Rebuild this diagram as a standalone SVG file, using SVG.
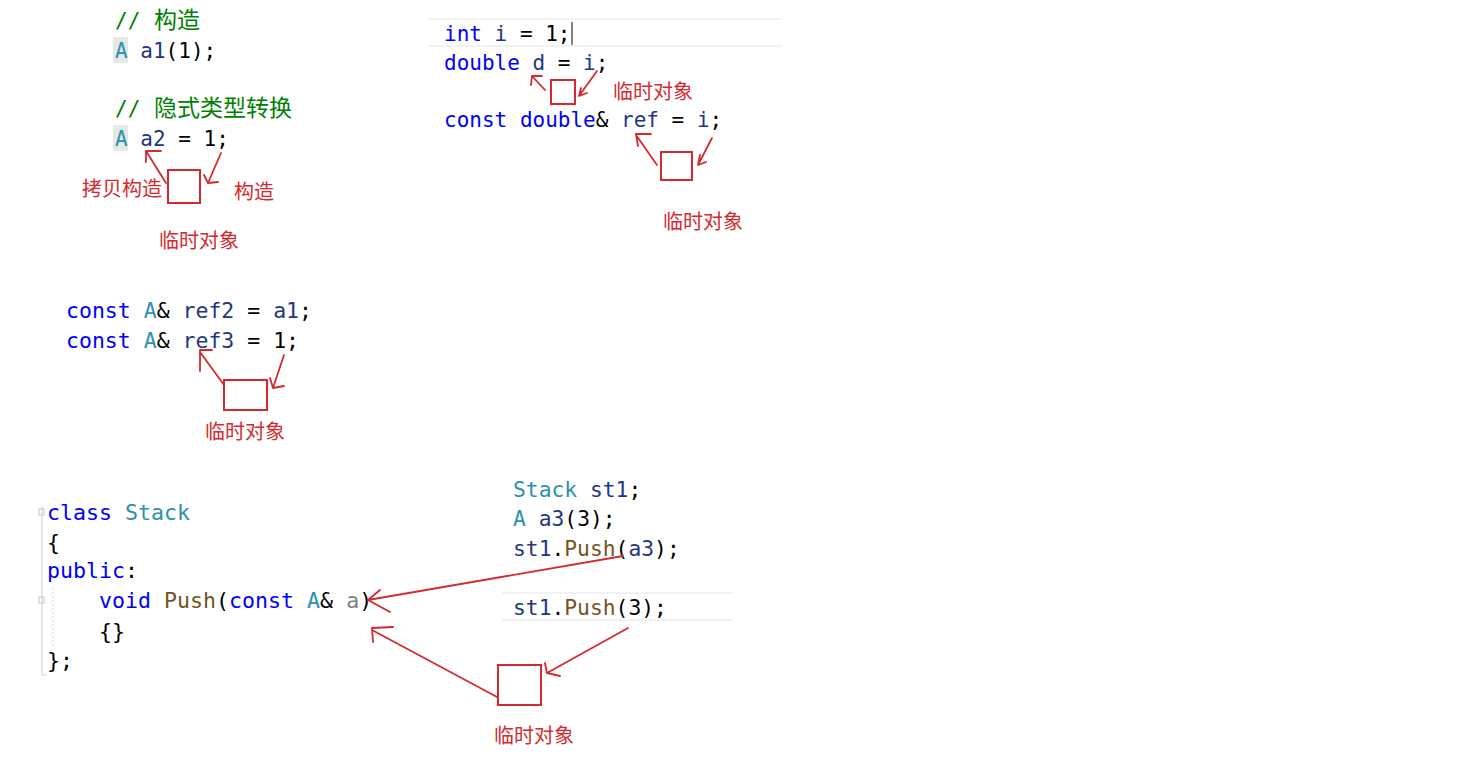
<svg xmlns="http://www.w3.org/2000/svg" width="1458" height="759" viewBox="0 0 1458 759">
<style>
.code{font-family:"DejaVu Sans Mono","Liberation Mono",monospace;font-size:21px;fill:#000}
.codem{font-family:"DejaVu Sans Mono","Liberation Mono",monospace;font-size:21.5px;fill:#000}
.codeb{font-family:"DejaVu Sans Mono","Liberation Mono",monospace;font-size:21.6px;fill:#000}
.coder{font-family:"DejaVu Sans Mono","Liberation Mono",monospace;font-size:21.3px;fill:#000}
.kw{fill:#0000ff}
.ty{fill:#2b91af}
.var{fill:#1f377f}
.cm{fill:#008000}
.cjk{font-family:"Noto Sans CJK SC",sans-serif;font-size:23px}
.fn{fill:#74531f}
.pa{fill:#808080}
.note{font-family:"Noto Sans CJK SC","Noto Sans",sans-serif;font-size:20px;fill:#d42a2f}
.box{fill:none;stroke:#d42a2f;stroke-width:2}
.arr{fill:none;stroke:#d42a2f;stroke-width:1.8;stroke-linecap:round;stroke-linejoin:round}
.sep{stroke:#e6e6e6;stroke-width:1.2}
</style>
<rect width="1458" height="759" fill="#ffffff"/>

<g id="code-top-left">
  <rect x="113" y="37" width="15" height="26" fill="#e3e9e3"/>
  <rect x="113" y="125" width="15" height="26" fill="#e3e9e3"/>
  <text class="code" x="115" y="28"><tspan class="cm">// </tspan><tspan class="cm cjk" x="154">构造</tspan></text>
  <text class="code" x="115" y="58"><tspan class="ty">A</tspan> <tspan class="var">a1</tspan>(1);</text>
  <text class="code" x="115" y="116"><tspan class="cm">// </tspan><tspan class="cm cjk" x="154">隐式类型转换</tspan></text>
  <text class="code" x="115" y="146"><tspan class="ty">A</tspan> <tspan class="var">a2</tspan> = 1;</text>
</g>

<g id="temp-a2">
  <rect class="box" x="168" y="170" width="32" height="33"/>
  <text class="note" x="82" y="196">拷贝构造</text>
  <text class="note" x="234" y="199">构造</text>
  <text class="note" x="159" y="248">临时对象</text>
</g>

<g id="code-top-right">
  <line class="sep" x1="428" y1="19" x2="782" y2="19"/>
  <line class="sep" x1="428" y1="46" x2="782" y2="46"/>
  <line x1="572" y1="22" x2="572" y2="45" stroke="#333" stroke-width="1.2"/>
  <text class="code" x="444" y="41"><tspan class="kw">int</tspan> <tspan class="var">i</tspan> = 1;</text>
  <text class="code" x="444" y="70"><tspan class="kw">double</tspan> <tspan class="var">d</tspan> = <tspan class="var">i</tspan>;</text>
  <text class="code" x="444" y="127"><tspan class="kw">const</tspan> <tspan class="kw">double</tspan>&amp; <tspan class="var">ref</tspan> = <tspan class="var">i</tspan>;</text>
</g>

<g id="temp-d">
  <rect class="box" x="551" y="80" width="24" height="24"/>
  <text class="note" x="613" y="99">临时对象</text>
</g>

<g id="temp-ref">
  <rect class="box" x="661" y="152" width="31" height="28"/>
  <text class="note" x="663" y="229">临时对象</text>
</g>

<g id="code-middle">
  <text class="codem" x="66" y="318"><tspan class="kw">const</tspan> <tspan class="ty">A</tspan>&amp; <tspan class="var">ref2</tspan> = <tspan class="var">a1</tspan>;</text>
  <text class="codem" x="66" y="348"><tspan class="kw">const</tspan> <tspan class="ty">A</tspan>&amp; <tspan class="var">ref3</tspan> = 1;</text>
</g>

<g id="temp-ref3">
  <rect class="box" x="224" y="380" width="43" height="30"/>
  <text class="note" x="205" y="439">临时对象</text>
</g>

<g id="code-stack">
  <line x1="42" y1="506" x2="42" y2="675" stroke="#cfcfcf" stroke-width="1"/>
  <line x1="42" y1="675" x2="47" y2="675" stroke="#cfcfcf" stroke-width="1"/>
  <line x1="53" y1="588" x2="53" y2="648" stroke="#d8d8d8" stroke-width="1" stroke-dasharray="2,2"/>
  <rect x="39" y="509" width="5" height="6" fill="none" stroke="#bbb" stroke-width="0.8"/>
  <rect x="39" y="597" width="5" height="6" fill="none" stroke="#bbb" stroke-width="0.8"/>
  <text class="codeb" x="47" y="520"><tspan class="kw">class</tspan> <tspan class="ty">Stack</tspan></text>
  <text class="codeb" x="47" y="550">{</text>
  <text class="codeb" x="47" y="578"><tspan class="kw">public</tspan>:</text>
  <text class="codeb" x="99" y="608"><tspan class="kw">void</tspan> <tspan class="fn">Push</tspan>(<tspan class="kw">const</tspan> <tspan class="ty">A</tspan>&amp; <tspan class="pa">a</tspan>)</text>
  <text class="codeb" x="99" y="639">{}</text>
  <text class="codeb" x="47" y="668">};</text>
</g>

<g id="code-usage">
  <line class="sep" x1="502" y1="593" x2="733" y2="593"/>
  <line class="sep" x1="502" y1="620" x2="733" y2="620"/>
  <text class="coder" x="513" y="497"><tspan class="ty">Stack</tspan> <tspan class="var">st1</tspan>;</text>
  <text class="coder" x="513" y="526"><tspan class="ty">A</tspan> <tspan class="var">a3</tspan>(3);</text>
  <text class="coder" x="513" y="556"><tspan class="var">st1</tspan>.<tspan class="fn">Push</tspan>(<tspan class="var">a3</tspan>);</text>
  <text class="coder" x="513" y="615"><tspan class="var">st1</tspan>.<tspan class="fn">Push</tspan>(3);</text>
</g>

<g id="temp-push">
  <rect class="box" x="498" y="665" width="43" height="40"/>
  <text class="note" x="494" y="743">临时对象</text>
</g>

<g id="connectors">
  <path class="arr" d="M166,183 L146,151 M146,151 L161,151 M146,151 L146,162"/>
  <path class="arr" d="M221,153 L208,183 M208,183 L204,175 M208,183 L218,182"/>
  <path class="arr" d="M545,90 L532,76 M532,76 L542,76 M532,76 L531,85"/>
  <path class="arr" d="M597,71 L579,96 M579,96 L581,88 M579,96 L587,93"/>
  <path class="arr" d="M657,165 L636,135 M636,134 L651,134 M636,134 L638,146"/>
  <path class="arr" d="M712,138 L698,165 M698,165 L700,155 M698,165 L706,162"/>
  <path class="arr" d="M224,385 L200,352 M200,350 L212,350 M200,350 L200,371"/>
  <path class="arr" d="M284,355 L273,388 M273,388 L270,378 M273,388 L284,386"/>
  <path class="arr" d="M623,556 L368,600 M368,600 L380,590 M368,600 L390,612"/>
  <path class="arr" d="M497,697 L372,630 M372,628 L393,627 M372,628 L373,642"/>
  <path class="arr" d="M628,628 L547,673 M547,673 L545,663 M547,673 L560,676"/>
</g>
</svg>
